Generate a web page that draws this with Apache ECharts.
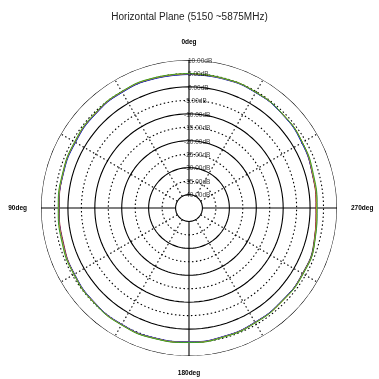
<!DOCTYPE html>
<html><head><meta charset="utf-8">
<script src="https://cdn.jsdelivr.net/npm/echarts@6/dist/echarts.min.js"></script>
<style>html,body{margin:0;padding:0;background:#fff}#c{width:379px;height:379px}</style>
</head><body><div id="c"></div>
<script>
var titleText = 'Horizontal Plane (5150 ~5875MHz)';
var angles = [0,15,30,45,60,75,90,105,120,135,150,165,180,195,210,225,240,255,270,285,300,315,330,345,360];
var greenVals  = [5.0,5.1,5.0,4.6,4.1,3.7,3.6,3.9,4.4,4.9,5.2,5.2,5.0,4.7,4.3,4.0,4.0,3.4,2.6,2.9,3.7,4.3,4.7,4.9,5.0];
var blueVals   = [4.6,4.7,4.6,4.2,3.7,3.4,3.3,3.6,4.1,4.6,4.9,4.9,4.7,4.4,4.0,3.8,3.8,3.3,2.5,2.6,3.4,4.1,4.5,4.6,4.6];
var redVals    = [4.8,4.9,4.8,4.4,3.9,3.5,3.2,3.4,4.2,4.7,5.0,5.0,4.8,4.5,4.1,3.9,3.8,3.2,2.2,2.5,3.5,4.2,4.6,4.8,4.8];
var blackVals  = [4.7,4.8,4.7,4.3,3.8,3.5,3.3,3.6,4.2,4.7,5.0,5.1,4.9,4.5,4.1,3.8,3.7,3.1,2.3,2.6,3.6,4.2,4.6,4.7,4.7];
var yellowVals = [4.9,5.0,4.9,4.5,4.0,3.6,3.4,3.7,4.3,4.8,5.1,5.1,4.9,4.6,4.2,4.0,3.9,3.3,2.4,2.7,3.7,4.3,4.7,4.8,4.9];
var solidRings = [-40,-30,-20,-10,0,10];
var dottedRings = [-35,-25,-15,-5,5];
var ringLabels = [10,5,0,-5,-10,-15,-20,-25,-30,-35,-40];
var solidSpokes = [0,90,180,270];
var dottedSpokes = [30,60,120,150,210,240,300,330];
var angleLabels = [0,90,180,270];

var circleAngles = [];
for (var a = 0; a <= 360; a += 3) circleAngles.push(a);

var series = [];
function ring(level, dotted){
  series.push({type:'line', coordinateSystem:'polar', symbol:'none', silent:true, z:1,
    data: circleAngles.map(function(a){return [level, a];}),
    lineStyle:{color:'#000', width:1.1, type: dotted ? [1.5,2.5] : 'solid'}});
}
solidRings.forEach(function(l){ring(l,false);});
dottedRings.forEach(function(l){ring(l,true);});
function spoke(a, dotted){
  series.push({type:'line', coordinateSystem:'polar', symbol:'none', silent:true, z:1,
    data: [[-40, a],[10, a]],
    lineStyle:{color:'#000', width:1.1, type: dotted ? [1.5,2.5] : 'solid'}});
}
solidSpokes.forEach(function(a){spoke(a,false);});
dottedSpokes.forEach(function(a){spoke(a,true);});

var curves = [
  {vals: blackVals, color:'#222222'},
  {vals: redVals, color:'#9a1030'},
  {vals: blueVals, color:'#2030c8'},
  {vals: yellowVals, color:'#e0b020'},
  {vals: greenVals, color:'#3aa02a'}
];
curves.forEach(function(c){
  series.push({type:'line', coordinateSystem:'polar', symbol:'none', smooth:true, z:5,
    data: angles.map(function(a,i){return [c.vals[i], a];}),
    lineStyle:{color:c.color, width:1}});
});

series.push({type:'scatter', coordinateSystem:'polar', symbolSize:0, z:6, silent:true,
  data: ringLabels.map(function(l){
    return {value:[l, 0], label:{offset:[l < 0 ? -5 : -1, 1]}};
  }),
  label:{show:true, position:'right', distance:0, fontSize:6.5, color:'#000',
    fontFamily:'Liberation Sans',
    formatter:function(p){return p.value[0].toFixed(2)+'dB';}}
});

var chart = echarts.init(document.getElementById('c'));
chart.setOption({
  animation:false,
  backgroundColor:'#fff',
  title:{text:titleText, left:'center', top:7,
    textStyle:{fontSize:10, fontWeight:'normal', color:'#222', fontFamily:'Liberation Sans'}},
  polar:{center:[189,208], radius:148},
  angleAxis:{type:'value', min:0, max:360, interval:90, startAngle:90, clockwise:false,
    axisLine:{show:false}, axisTick:{show:false}, splitLine:{show:false},
    axisLabel:{margin:14, fontSize:6.5, fontWeight:'bold', color:'#000', fontFamily:'Liberation Sans',
      formatter:function(v){return angleLabels.indexOf(v) >= 0 && v !== 360 ? v+'deg' : '';}}},
  radiusAxis:{type:'value', min:-45, max:10, interval:5,
    axisLine:{show:false}, axisTick:{show:false}, splitLine:{show:false}, axisLabel:{show:false}},
  series: series
});
</script></body></html>
